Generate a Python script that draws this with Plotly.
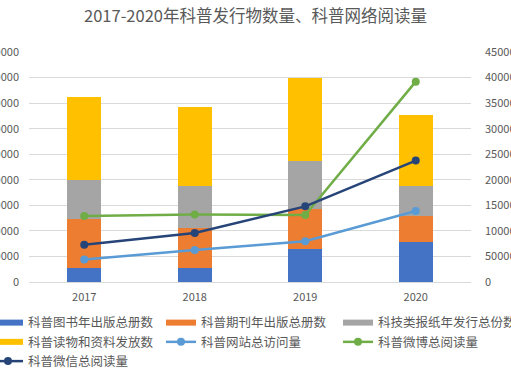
import plotly.graph_objects as go

years = ["2017", "2018", "2019", "2020"]

# Left axis (publication counts)
books = [5500, 5500, 13100, 15700]
periodicals = [19300, 15600, 15400, 10000]
newspapers = [15000, 16600, 18900, 12000]
materials = [32500, 30800, 32400, 27500]

# Right axis (network reading)
website = [43800, 62600, 79700, 139000]
weibo = [129000, 132000, 131000, 392000]
wechat = [73000, 96000, 148000, 237600]

bar_names = ["科普图书年出版总册数", "科普期刊年出版总册数", "科技类报纸年发行总份数", "科普读物和资料发放数"]
line_names = ["科普网站总访问量", "科普微博总阅读量", "科普微信总阅读量"]

bar_colors = ["#4472C4", "#ED7D31", "#A5A5A5", "#FFC000"]
line_colors = ["#5B9BD5", "#70AD47", "#264478"]

# legend column for each entry (7 entries laid out 3 per row)
legend_cols = ["legend", "legend2", "legend3", "legend", "legend2", "legend3", "legend"]

FONT = "Noto Sans CJK SC"
TXT = "#595959"

fig = go.Figure()
for name, vals, col in zip(bar_names, [books, periodicals, newspapers, materials], bar_colors):
    fig.add_trace(go.Bar(x=years, y=vals, name=name, marker=dict(color=col, line=dict(width=0)),
                         showlegend=False, yaxis="y"))

idx = 0
for name, col in zip(bar_names, bar_colors):
    fig.add_trace(go.Scatter(x=[None], y=[None], mode="lines", name=name,
                             line=dict(color=col, width=6), yaxis="y", showlegend=True,
                             legend=legend_cols[idx], legendgroup="g%d" % idx))
    idx += 1

for name, vals, col in zip(line_names, [website, weibo, wechat], line_colors):
    fig.add_trace(go.Scatter(x=years, y=vals, name=name, mode="lines+markers",
                             line=dict(color=col, width=2.5), marker=dict(color=col, size=8),
                             yaxis="y2", legend=legend_cols[idx], legendgroup="g%d" % idx))
    idx += 1

leg_common = dict(orientation="v", xanchor="left", xref="paper", y=-0.113, yanchor="top",
                  yref="paper", font=dict(size=12.5, color=TXT, family=FONT), itemwidth=30,
                  bgcolor="rgba(0,0,0,0)", traceorder="normal", tracegroupgap=5)

fig.update_layout(
    width=511, height=385,
    margin=dict(l=29, r=40, t=52, b=103, autoexpand=False),
    paper_bgcolor="white", plot_bgcolor="white",
    barmode="stack", bargap=0.69,
    font=dict(family=FONT, color=TXT, size=11),
    title=dict(text="2017-2020年科普发行物数量、科普网络阅读量", x=0.5, xanchor="center",
               y=0.957, yanchor="middle", font=dict(size=16.5, color=TXT, family=FONT)),
    xaxis=dict(showgrid=False, showline=True, linecolor="#D9D9D9", linewidth=1,
               ticks="", tickfont=dict(size=11, color=TXT), automargin=False,
               ticklabelstandoff=5),
    yaxis=dict(range=[0, 90000], dtick=10000, showgrid=True, gridcolor="#D9D9D9", gridwidth=1,
               zeroline=False, showline=False, ticks="", tickformat="d",
               tickfont=dict(size=11, color=TXT), automargin=False, ticklabelstandoff=9),
    yaxis2=dict(range=[0, 450000], dtick=50000, overlaying="y", side="right", showgrid=False,
                zeroline=False, showline=False, ticks="", tickformat="d",
                tickfont=dict(size=11, color=TXT), automargin=False, ticklabelstandoff=13),
    legend=dict(x=-0.0928, **leg_common),
    legend2=dict(x=0.2986, **leg_common),
    legend3=dict(x=0.6991, **leg_common),
)

fig.write_html("out.html", config={"displayModeBar": False},
               post_script="document.body.style.margin='0';document.body.style.overflow='hidden';")
